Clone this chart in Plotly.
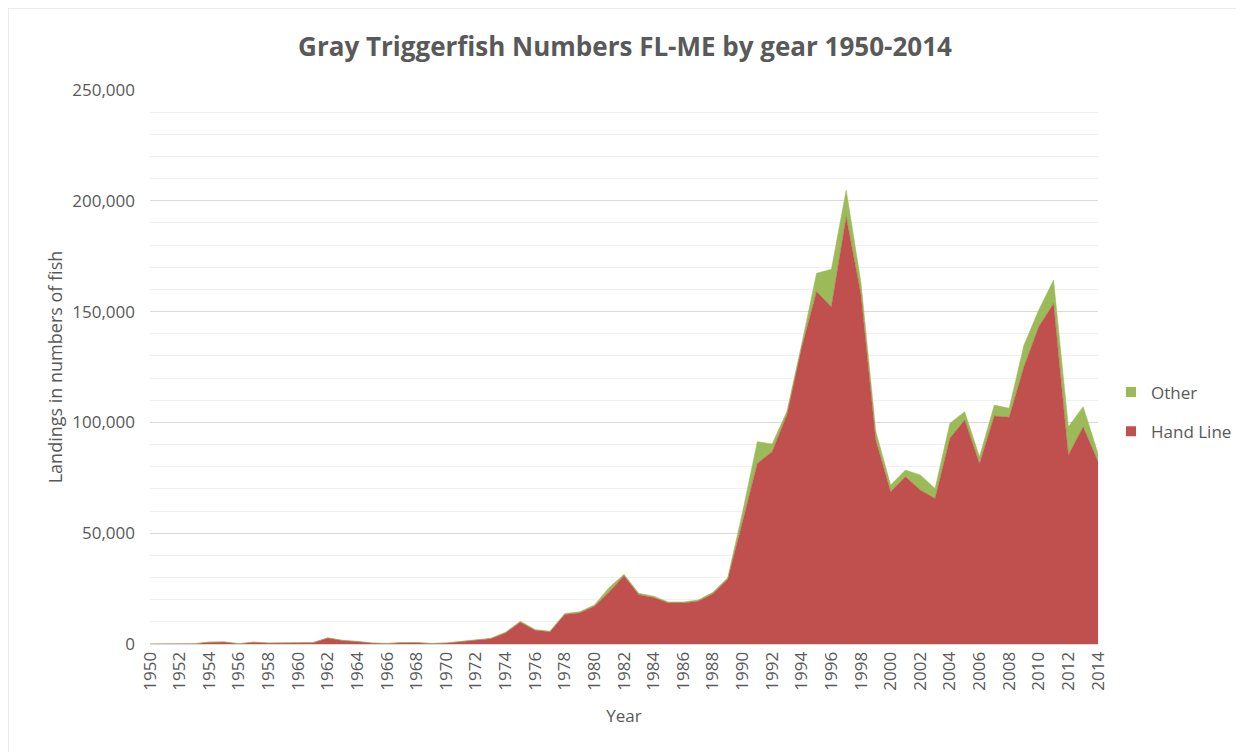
import plotly.graph_objects as go

years = list(range(1950, 2015))

hand_line = [
    0, 0, 0, 100, 800, 900, 100, 800, 400, 500,            # 1950-1959
    500, 600, 2700, 1600, 1100, 400, 200, 600, 600, 200,   # 1960-1969
    400, 1100, 2000, 2400, 5000, 9800, 6200, 5500, 13300, 14000,  # 1970-1979
    17000, 23500, 30800, 22200, 21000, 18500, 18500, 19300, 22700, 29200,  # 1980-1989
    55000, 81500, 86800, 103500, 134000, 159000, 152200, 192800, 157500, 92000,  # 1990-1999
    68700, 75500, 69500, 65700, 92800, 101100, 81500, 102900, 102300, 125100,  # 2000-2009
    143200, 153700, 85300, 98000, 82300,                    # 2010-2014
]

other = [
    50, 50, 50, 50, 50, 50, 50, 50, 50, 50,
    50, 50, 100, 50, 50, 50, 50, 50, 50, 50,
    100, 100, 200, 200, 300, 500, 300, 300, 500, 500,
    600, 2000, 700, 700, 600, 500, 500, 500, 600, 700,
    4500, 9800, 3500, 1500, 1500, 8300, 16900, 12100, 5500, 4000,
    3000, 3000, 6800, 4500, 6800, 3700, 3000, 4900, 4100, 9800,
    7500, 10600, 12700, 9100, 3700,
]

tick_years = list(range(1950, 2015, 2))
tick_labels = [str(y) for y in tick_years]
y_ticks = [0, 50000, 100000, 150000, 200000, 250000]
y_labels = ["0", "50,000", "100,000", "150,000", "200,000", "250,000"]

RED = "#C0504D"
GREEN = "#9BBB59"
GRAY = "#595959"
FONT = "Open Sans"

ML, MR, MT, MB = 142, 154, 82, 116
PW = 1244 - ML - MR
PH = 752 - MT - MB

fig = go.Figure()
fig.add_trace(go.Scatter(
    x=years, y=hand_line, name="Hand Line", stackgroup="one", mode="lines",
    line=dict(color=RED, width=0.5), fillcolor=RED, showlegend=False,
))
fig.add_trace(go.Scatter(
    x=years, y=other, name="Other", stackgroup="one", mode="lines",
    line=dict(color=GREEN, width=0.5), fillcolor=GREEN, showlegend=False,
))
# legend entries with square swatches (Other listed first, as in the original)
fig.add_trace(go.Scatter(
    x=[None], y=[None], name="Other", mode="markers", legendgroup="o",
    marker=dict(symbol="square", size=10, color=GREEN),
))
fig.add_trace(go.Scatter(
    x=[None], y=[None], name="Hand Line", mode="markers", legendgroup="h",
    marker=dict(symbol="square", size=10, color=RED),
))

fig.update_layout(
    width=1244, height=752,
    margin=dict(l=ML, r=MR, t=MT, b=MB),
    paper_bgcolor="white", plot_bgcolor="white",
    font=dict(family=FONT, color=GRAY, size=17),
    title=dict(
        text="<b>Gray Triggerfish Numbers FL-ME by gear 1950-2014</b>",
        x=(625 - 8) / 1244, xanchor="center", y=1 - (47 - 8) / 752, yanchor="middle",
        font=dict(family=FONT, size=26, color=GRAY),
    ),
    legend=dict(
        x=(1111 - 8 - ML) / PW, xanchor="left", y=(644 - 412) / PH, yanchor="middle",
        traceorder="grouped", tracegroupgap=14,
        font=dict(size=17, color=GRAY), bgcolor="rgba(0,0,0,0)",
        itemwidth=30,
    ),
    showlegend=True,
    hovermode=False,
)

fig.update_xaxes(
    range=[1950, 2014], tickmode="array", tickvals=tick_years, ticktext=tick_labels,
    tickangle=-90, tickfont=dict(size=17, color=GRAY),
    showgrid=False, zeroline=False, showline=True, linecolor="#D9D9D9", linewidth=1,
    ticks="", title=dict(text="Year", font=dict(size=17, color=GRAY), standoff=20),
)
fig.update_yaxes(
    range=[0, 250000], tickmode="array", tickvals=y_ticks, ticktext=y_labels,
    tickfont=dict(size=17, color=GRAY), showgrid=True, gridcolor="#D9D9D9", gridwidth=1,
    zeroline=False, showline=False, ticks="", ticklabelstandoff=14,
    minor=dict(dtick=10000, showgrid=True, gridcolor="#F0F0F0", gridwidth=1),
    title=dict(text="Landings in numbers of fish", font=dict(size=18, color=GRAY), standoff=4),
)

fig.add_shape(
    type="rect", xref="paper", yref="paper",
    x0=(0 - ML) / PW, x1=(1230 - ML) / PW,
    y0=(752 - MB - 760) / PH, y1=(752 - MB) / PH,
    line=dict(color="#D9D9D9", width=1), fillcolor="rgba(0,0,0,0)", layer="below",
)

fig.write_html("out.html")
